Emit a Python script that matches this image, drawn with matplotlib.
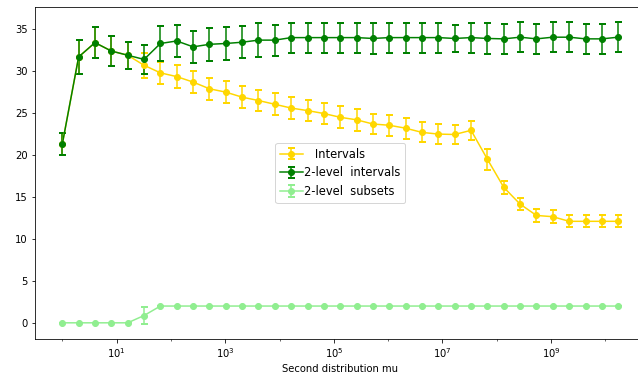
import numpy as np
import matplotlib
matplotlib.use("Agg")
import matplotlib.pyplot as plt
from matplotlib.ticker import FixedLocator, NullFormatter

# x: 2^0 .. 2^34
mu = [2.0 ** k for k in range(35)]

intervals = [21.3, 31.7, 33.4, 32.4, 31.9, 30.7, 29.8, 29.35, 28.7, 27.9,
             27.5, 26.9, 26.5, 26.05, 25.6, 25.3, 24.95, 24.5, 24.2, 23.7,
             23.55, 23.2, 22.7, 22.5, 22.45, 22.95, 19.5, 16.15, 14.15, 12.8,
             12.65, 12.1, 12.1, 12.1, 12.1]
intervals_err = [1.3, 2.0, 1.85, 1.8, 1.6, 1.5, 1.35, 1.4, 1.35, 1.3,
                 1.35, 1.35, 1.3, 1.3, 1.3, 1.3, 1.3, 1.3, 1.3, 1.25,
                 1.25, 1.25, 1.2, 1.2, 1.15, 1.15, 1.25, 0.8, 0.75, 0.8,
                 0.75, 0.7, 0.7, 0.7, 0.7]

two_level = [21.3, 31.7, 33.4, 32.4, 31.9, 31.4, 33.3, 33.6, 32.9, 33.2,
             33.3, 33.45, 33.7, 33.7, 34.0, 34.0, 34.0, 34.0, 34.0, 33.9,
             34.0, 34.0, 34.0, 34.0, 33.9, 34.0, 33.9, 33.85, 34.05, 33.85,
             34.05, 34.05, 33.85, 33.85, 34.05]
two_level_err = [1.3, 2.0, 1.85, 1.8, 1.6, 1.7, 2.1, 1.95, 1.9, 2.0,
                 2.0, 1.9, 2.0, 1.85, 1.8, 1.8, 1.8, 1.8, 1.8, 1.85,
                 1.8, 1.8, 1.8, 1.8, 1.6, 1.8, 1.85, 1.8, 1.8, 1.8,
                 1.8, 1.8, 1.8, 1.8, 1.8]

subsets = [0, 0, 0, 0, 0, 0.87] + [2.0] * 29
subsets_err = [0, 0, 0, 0, 0, 1.0] + [0] * 29

major_ticks = [1e1, 1e3, 1e5, 1e7, 1e9]
minor_ticks = [1e0, 1e2, 1e4, 1e6, 1e8, 1e10]

fig = plt.figure(figsize=(638 / 72, 380 / 72), dpi=72)
ax = fig.add_axes([34.5 / 638, 41 / 380, 611.5 / 638, 332 / 380])

ax.errorbar(mu, intervals, yerr=intervals_err, color="gold", marker="o",
            capsize=3.5, capthick=2, label="   Intervals")
ax.errorbar(mu, two_level, yerr=two_level_err, color="green", marker="o",
            capsize=3.5, capthick=2, label="2-level  intervals")
ax.errorbar(mu, subsets, yerr=subsets_err, color="lightgreen", marker="o",
            capsize=3.5, capthick=2, label="2-level  subsets")

ax.set_xscale("log")
ax.xaxis.set_major_locator(FixedLocator(major_ticks))
ax.xaxis.set_minor_locator(FixedLocator(minor_ticks))
ax.xaxis.set_minor_formatter(NullFormatter())
ax.set_xlabel("Second distribution mu")
ax.legend(loc="center", fontsize=11.5, handletextpad=0.1)

fig.savefig("out.png", dpi=72)
plt.close(fig)
